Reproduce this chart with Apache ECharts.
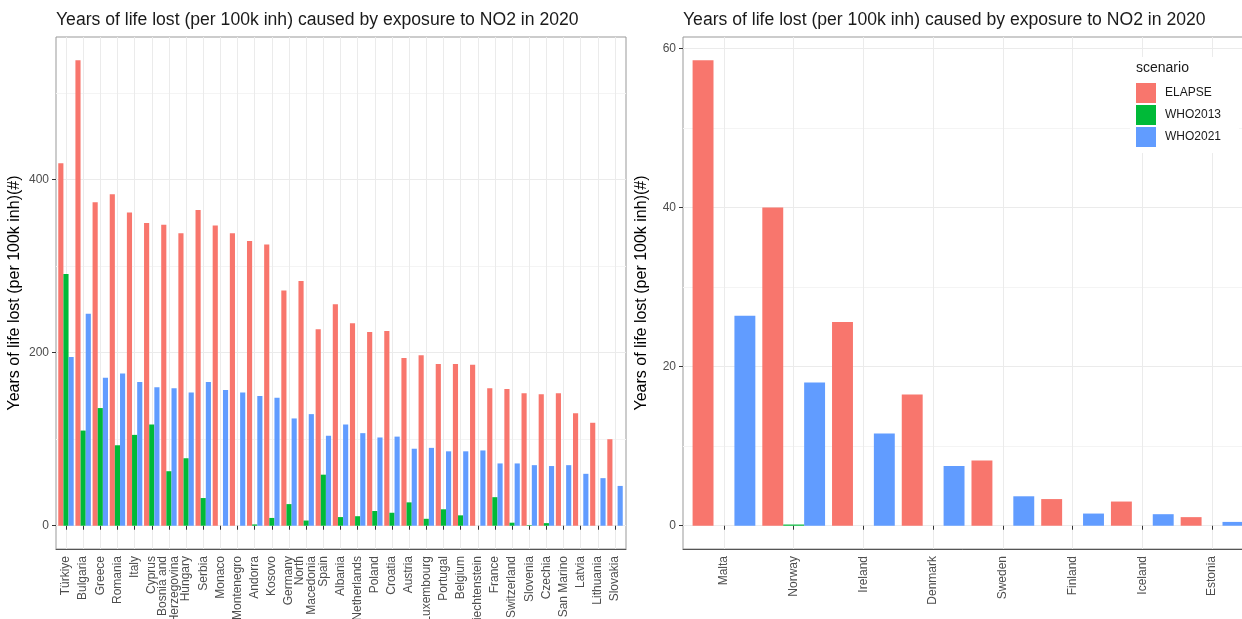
<!DOCTYPE html>
<html lang="en" style="height: 100%">

<head>
    <meta charset="UTF-8">
    <title>Years of life lost - NO2 2020</title>
    <script type="text/javascript" src="https://cdn.jsdelivr.net/npm/echarts@6/dist/echarts.min.js"></script>
</head>

<body style="height: 100%; margin: 0; background: #fff">
    <div id="container" style="width: 1242px; height: 619px"></div>
    <script type="text/javascript">
    // left panel: countries with large values
    var leftCountries = ['Türkiye', 'Bulgaria', 'Greece', 'Romania', 'Italy', 'Cyprus',
        'Bosnia and\nHerzegovina', 'Hungary', 'Serbia', 'Monaco', 'Montenegro', 'Andorra',
        'Kosovo', 'Germany', 'North\nMacedonia', 'Spain', 'Albania', 'Netherlands', 'Poland',
        'Croatia', 'Austria', 'Luxembourg', 'Portugal', 'Belgium', 'Liechtenstein', 'France',
        'Switzerland', 'Slovenia', 'Czechia', 'San Marino', 'Latvia', 'Lithuania', 'Slovakia'];
    var leftElapse = [419, 538, 374, 383, 362, 350, 348, 338, 365, 347, 338, 329,
        325, 272, 283, 227, 256, 234, 224, 225, 194, 197, 187, 187, 186, 159,
        158, 153, 152, 153, 130, 119, 100];
    var leftWho2013 = [291, 110, 136, 93, 105, 117, 63, 78, 32, 0, 0, 1.5,
        9, 25, 6, 59, 10, 11, 17, 15, 27, 8, 19, 12, 0, 33,
        3.5, 0.7, 3, 0, 0, 0, 0];
    var leftWho2021 = [195, 245, 171, 176, 166, 160, 159, 154, 166, 157, 154, 150,
        148, 124, 129, 104, 117, 107, 102, 103, 89, 90, 86, 86, 87, 72,
        72, 70, 69, 70, 60, 55, 46];

    // right panel: countries with small values
    var rightCountries = ['Malta', 'Norway', 'Ireland', 'Denmark', 'Sweden', 'Finland', 'Iceland', 'Estonia'];
    var rightElapse = [58.5, 40.0, 25.6, 16.5, 8.2, 3.35, 3.04, 1.08];
    var rightWho2013 = [0, 0.15, 0, 0, 0, 0, 0, 0];
    var rightWho2021 = [26.4, 18.0, 11.6, 7.5, 3.7, 1.53, 1.45, 0.48];

    var leftMajorTicks = [0, 200, 400];
    var leftMinorTicks = [100, 300, 500];
    var rightMajorTicks = [0, 20, 40, 60];
    var rightMinorTicks = [10, 30, 50];

    var scenarios = ['ELAPSE', 'WHO2013', 'WHO2021'];
    var colors = ['#F8766D', '#00BA38', '#619CFF'];

    var font = '"Liberation Sans", Arial, sans-serif';
    var titleText = 'Years of life lost (per 100k inh) caused by exposure to NO2 in 2020';
    var yName = 'Years of life lost (per 100k inh)(#)';

    // ggplot style 5% expansion of the value range
    var leftMax = Math.max.apply(null, leftElapse);
    var rightMax = Math.max.apply(null, rightElapse);
    var leftRange = [-leftMax * 0.05, leftMax * 1.05];
    var rightRange = [-rightMax * 0.05, rightMax * 1.05];

    var myChart = echarts.init(document.getElementById('container'));

    // frame grid: border + bottom axis line
    function frameX(grid) {
        return {
            type: 'value', gridIndex: grid, min: 0, max: 1,
            axisLine: { show: true, onZero: false, lineStyle: { color: '#555', width: 1 } },
            axisTick: { show: false }, axisLabel: { show: false }, splitLine: { show: false }
        };
    }

    function dataX(grid, cats) {
        return {
            type: 'category', gridIndex: grid, data: cats, boundaryGap: true,
            axisLine: { show: false },
            axisTick: { show: true, alignWithLabel: true, length: 4, lineStyle: { color: '#333' } },
            axisLabel: { interval: 0, rotate: 90, margin: 7, fontSize: 12, color: '#4d4d4d', fontFamily: font, lineHeight: 12 },
            splitLine: { show: true, alignWithLabel: true, lineStyle: { color: '#ebebeb', width: 1 } }
        };
    }

    function mainY(grid, range, ticks) {
        return {
            type: 'value', gridIndex: grid, position: 'left', min: range[0], max: range[1], splitNumber: 3,
            name: yName, nameLocation: 'middle', nameGap: 33,
            nameTextStyle: { fontSize: 16, color: '#000', fontFamily: font },
            axisLine: { show: false },
            axisTick: { show: true, length: 4, customValues: ticks, lineStyle: { color: '#333' } },
            axisLabel: { margin: 7, fontSize: 12, color: '#4d4d4d', fontFamily: font, customValues: ticks },
            splitLine: { show: true, lineStyle: { color: '#ebebeb', width: 1 } }
        };
    }

    function minorY(grid, range, ticks) {
        return {
            type: 'value', gridIndex: grid, position: 'left', min: range[0], max: range[1], splitNumber: 6,
            axisLine: { show: false },
            axisTick: { show: false, customValues: ticks },
            axisLabel: { show: false, customValues: ticks },
            splitLine: { show: true, lineStyle: { color: '#f4f4f4', width: 1 } }
        };
    }

    function hiddenY(grid, range) {
        return { type: 'value', gridIndex: grid, position: 'left', min: range[0], max: range[1], show: false };
    }

    function bars(values, k, xi, yi) {
        return {
            type: 'bar', name: scenarios[k], xAxisIndex: xi, yAxisIndex: yi,
            data: values, barGap: '0%', barCategoryGap: '10%',
            itemStyle: { color: colors[k] }
        };
    }

    var option = {
        animation: false,
        backgroundColor: '#fff',
        textStyle: { fontFamily: font },
        title: [{
            text: titleText, left: 56, top: 11, padding: 0,
            textStyle: { fontSize: 17.6, fontWeight: 'normal', color: '#1a1a1a', fontFamily: font }
        }, {
            text: titleText, left: 683, top: 11, padding: 0,
            textStyle: { fontSize: 17.6, fontWeight: 'normal', color: '#1a1a1a', fontFamily: font }
        }, {
            text: 'scenario', left: 1136, top: 61, padding: 0,
            textStyle: { fontSize: 14, fontWeight: 'normal', color: '#1a1a1a', fontFamily: font }
        }],
        legend: {
            data: scenarios, orient: 'vertical', left: 1130, top: 57,
            padding: [26, 18, 6, 6], backgroundColor: '#fff',
            icon: 'rect', itemWidth: 20, itemHeight: 20, itemGap: 2,
            textStyle: { fontSize: 12, color: '#1a1a1a', fontFamily: font, padding: [0, 0, 0, 4] },
            selectedMode: false
        },
        grid: [
            { left: 56, right: 616, top: 37, bottom: 70, show: true, borderColor: '#999', borderWidth: 1, outerBoundsMode: 'none' },
            { left: 57.4, right: 618.4, top: 37, bottom: 70, outerBoundsMode: 'none' },
            { left: 683, right: -12, top: 37, bottom: 70, show: true, borderColor: '#999', borderWidth: 1, outerBoundsMode: 'none' },
            { left: 689.1, right: -4.9, top: 37, bottom: 70, outerBoundsMode: 'none' }
        ],
        xAxis: [
            frameX(0),
            dataX(1, leftCountries),
            frameX(2),
            dataX(3, rightCountries)
        ],
        yAxis: [
            minorY(0, leftRange, leftMinorTicks),
            mainY(0, leftRange, leftMajorTicks),
            hiddenY(1, leftRange),
            minorY(2, rightRange, rightMinorTicks),
            mainY(2, rightRange, rightMajorTicks),
            hiddenY(3, rightRange)
        ],
        series: [
            bars(leftElapse, 0, 1, 2),
            bars(leftWho2013, 1, 1, 2),
            bars(leftWho2021, 2, 1, 2),
            bars(rightElapse, 0, 3, 5),
            bars(rightWho2013, 1, 3, 5),
            bars(rightWho2021, 2, 3, 5)
        ]
    };

    myChart.setOption(option);
    </script>
</body>

</html>
